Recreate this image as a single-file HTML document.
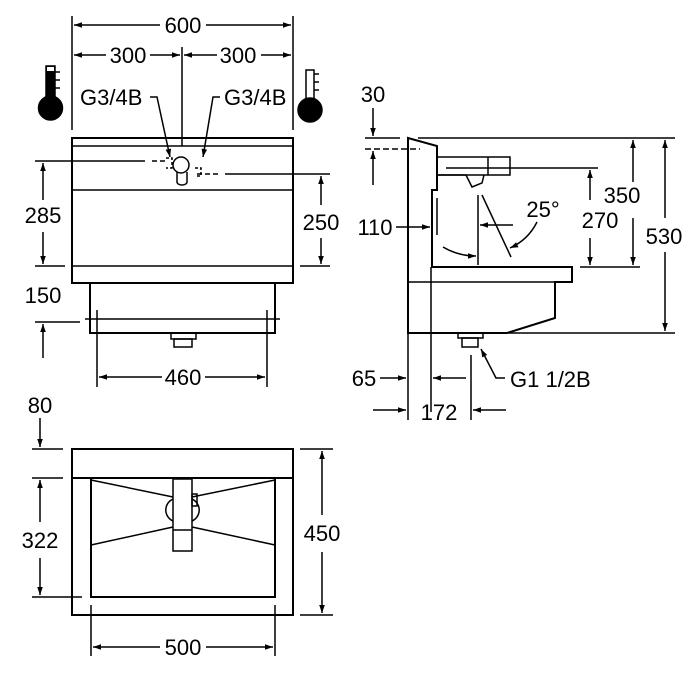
<!DOCTYPE html><html><head><style>body{margin:0;background:#fff}svg{display:block}text{font-family:"Liberation Sans",sans-serif;font-size:22px;fill:#000}</style></head><body>
<svg width="700" height="700" viewBox="0 0 700 700" xmlns="http://www.w3.org/2000/svg">
<defs><marker id="a" viewBox="0 0 10 10" refX="10" refY="5" markerWidth="16" markerHeight="8" markerUnits="userSpaceOnUse" orient="auto-start-reverse"><path d="M0,1.5L10,5L0,8.5z"/></marker></defs>
<g stroke="#000" stroke-width="1.5" fill="none">
<rect x="72" y="138" width="221" height="145" stroke-width="2"/>
<line x1="72" y1="146" x2="293" y2="146"/><line x1="72" y1="190" x2="293" y2="190"/><line x1="72" y1="266" x2="293" y2="266"/>
<rect x="90" y="283" width="185" height="50" stroke-width="2"/><line x1="85" y1="319" x2="280" y2="319"/>
<rect x="171" y="333" width="25" height="6"/><rect x="174" y="339" width="18" height="8"/>
<line x1="72" y1="16" x2="72" y2="130"/><line x1="293" y1="16" x2="293" y2="130"/><line x1="182" y1="47" x2="182" y2="146"/>
<line x1="74" y1="25" x2="160" y2="25" marker-start="url(#a)"/><line x1="206" y1="25" x2="291" y2="25" marker-end="url(#a)"/>
<line x1="74" y1="55" x2="106" y2="55" marker-start="url(#a)"/><line x1="150" y1="55" x2="180" y2="55" marker-end="url(#a)"/>
<line x1="184" y1="55" x2="217" y2="55" marker-start="url(#a)"/><line x1="261" y1="55" x2="291" y2="55" marker-end="url(#a)"/>
<line x1="35" y1="161" x2="145" y2="161"/><line x1="152" y1="161" x2="165" y2="161" stroke-dasharray="5,3"/>
<line x1="35" y1="266" x2="65" y2="266"/><line x1="300" y1="266" x2="330" y2="266"/>
<line x1="225" y1="174" x2="330" y2="174"/><line x1="197" y1="174" x2="220" y2="174" stroke-dasharray="5,3"/>
<line x1="43" y1="163" x2="43" y2="200" marker-start="url(#a)"/><line x1="43" y1="232" x2="43" y2="264" marker-end="url(#a)"/>
<line x1="321" y1="176" x2="321" y2="205" marker-start="url(#a)"/><line x1="321" y1="238" x2="321" y2="264" marker-end="url(#a)"/>
<circle cx="181" cy="165" r="8"/><path d="M177,172v10a5,3 0 0 0 10,0v-10"/>
<path d="M166,158h6v10h-6M195,168h6v8h-6" stroke-dasharray="3,2"/>
<line x1="35" y1="322" x2="80" y2="322"/><line x1="43" y1="358" x2="43" y2="324" marker-end="url(#a)"/>
<line x1="97" y1="310" x2="97" y2="387"/><line x1="267" y1="310" x2="267" y2="387"/>
<line x1="99" y1="377" x2="162" y2="377" marker-start="url(#a)"/><line x1="205" y1="377" x2="265" y2="377" marker-end="url(#a)"/>
<path d="M150,97h7l13,60" marker-end="url(#a)"/><path d="M220,97h-7l-10,60" marker-end="url(#a)"/>
<rect x="46" y="66" width="9" height="38" fill="#000"/><rect x="47" y="67" width="7" height="4" fill="#fff" stroke="none"/>
<circle cx="50.5" cy="108" r="12" fill="#000"/>
<path d="M55,72h5M55,80h5M55,88h5"/>
<rect x="306" y="70" width="8" height="30"/><circle cx="310" cy="110" r="12" fill="#000"/>
<path d="M314,74h5M314,82h5M314,90h5"/>
<path d="M408,138L437,146V190H432V267H572V282H555V318L507,333H408Z" stroke-width="2"/>
<line x1="408" y1="282" x2="572" y2="282"/><line x1="408" y1="138" x2="408" y2="420"/>
<rect x="437" y="157" width="73" height="18"/><line x1="488" y1="157" x2="488" y2="175"/>
<path d="M437,175H466L472,187L482,183L484,175"/>
<line x1="446" y1="168" x2="598" y2="168"/>
<line x1="418" y1="138" x2="675" y2="138"/><line x1="580" y1="267" x2="640" y2="267"/><line x1="507" y1="333" x2="675" y2="333"/>
<line x1="633" y1="140" x2="633" y2="182" marker-start="url(#a)"/><line x1="633" y1="218" x2="633" y2="265" marker-end="url(#a)"/>
<line x1="665" y1="140" x2="665" y2="218" marker-start="url(#a)"/><line x1="665" y1="252" x2="665" y2="331" marker-end="url(#a)"/>
<line x1="590" y1="170" x2="590" y2="200" marker-start="url(#a)"/><line x1="590" y1="238" x2="590" y2="265" marker-end="url(#a)"/>
<line x1="365" y1="138" x2="400" y2="138"/><line x1="365" y1="149" x2="420" y2="149" stroke-dasharray="6,3"/>
<line x1="373" y1="108" x2="373" y2="136" marker-end="url(#a)"/><line x1="373" y1="185" x2="373" y2="151" marker-end="url(#a)"/>
<line x1="396" y1="227" x2="430" y2="227" marker-end="url(#a)"/><line x1="437" y1="198" x2="437" y2="235"/>
<line x1="478" y1="195" x2="478" y2="265"/><line x1="482" y1="195" x2="511" y2="257"/>
<line x1="513" y1="225" x2="480" y2="225" marker-end="url(#a)"/>
<path d="M443,247Q458,256 476,256" marker-end="url(#a)"/><path d="M537,222Q528,240 510,248" marker-end="url(#a)"/>
<line x1="431" y1="267" x2="431" y2="412"/><line x1="471" y1="355" x2="471" y2="420"/>
<rect x="458" y="333" width="25" height="5"/><rect x="462" y="338" width="16" height="9"/>
<line x1="380" y1="378" x2="406" y2="378" marker-end="url(#a)"/><line x1="466" y1="378" x2="433" y2="378" marker-end="url(#a)"/>
<line x1="373" y1="410" x2="406" y2="410" marker-end="url(#a)"/><line x1="506" y1="410" x2="473" y2="410" marker-end="url(#a)"/>
<path d="M505,378H496L481,349" marker-end="url(#a)"/>
<rect x="72" y="449" width="221" height="166" stroke-width="2"/><line x1="72" y1="478" x2="293" y2="478" stroke-width="2"/>
<rect x="91" y="478" width="184" height="119" stroke-width="2"/>
<path d="M91,480L173,497M91,545L173,527M275,480L192,497M275,545L192,527"/>
<path d="M173,499A12,12 0 0 0 173,521M192,499A12,12 0 0 1 192,521"/>
<rect x="173" y="479" width="19" height="72" fill="#fff"/><line x1="173" y1="530" x2="192" y2="530"/>
<rect x="192" y="494" width="5" height="12"/>
<line x1="32" y1="449" x2="63" y2="449"/><line x1="32" y1="478" x2="63" y2="478"/><line x1="32" y1="597" x2="82" y2="597"/>
<line x1="40" y1="418" x2="40" y2="447" marker-end="url(#a)"/>
<line x1="40" y1="480" x2="40" y2="522" marker-start="url(#a)"/><line x1="40" y1="558" x2="40" y2="595" marker-end="url(#a)"/>
<line x1="300" y1="449" x2="333" y2="449"/><line x1="300" y1="615" x2="333" y2="615"/>
<line x1="322" y1="451" x2="322" y2="515" marker-start="url(#a)"/><line x1="322" y1="552" x2="322" y2="613" marker-end="url(#a)"/>
<line x1="91" y1="605" x2="91" y2="656"/><line x1="275" y1="605" x2="275" y2="656"/>
<line x1="93" y1="647" x2="160" y2="647" marker-start="url(#a)"/><line x1="206" y1="647" x2="273" y2="647" marker-end="url(#a)"/>
</g>
<g text-anchor="middle">
<text x="183" y="33">600</text><text x="128" y="63">300</text><text x="238" y="63">300</text>
<text x="43" y="223">285</text><text x="321" y="230">250</text><text x="43" y="303">150</text><text x="183" y="385">460</text>
<text x="373" y="102">30</text><text x="622" y="203">350</text><text x="664" y="244">530</text><text x="600" y="228">270</text>
<text x="543" y="217">25°</text><text x="375" y="235">110</text><text x="364" y="386">65</text><text x="439" y="420">172</text>
<text x="40" y="413">80</text><text x="40" y="548">322</text><text x="322" y="541">450</text><text x="183" y="655">500</text>
</g>
<text x="80" y="105">G3/4B</text><text x="224" y="105">G3/4B</text><text x="510" y="387">G1 1/2B</text>
</svg></body></html>
